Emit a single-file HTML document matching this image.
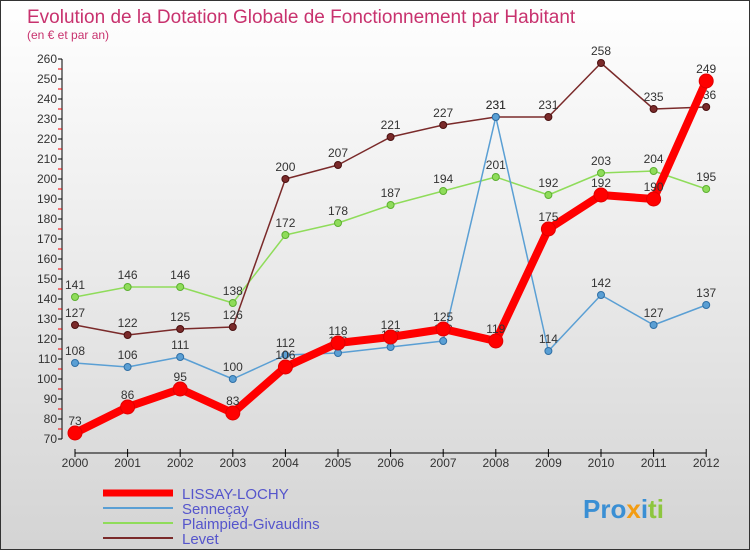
<!DOCTYPE html>
<html><head><meta charset="utf-8"><style>
body{margin:0;width:750px;height:550px;overflow:hidden;font-family:"Liberation Sans",sans-serif}
#wrap{position:relative;width:748px;height:548px;border:1px solid #333;background:linear-gradient(#fff,#d4d4d4)}
</style></head><body>
<div id="wrap">
<svg id="c" width="748" height="548">
<text x="26" y="22" font-size="19" fill="#c8326e">Evolution de la Dotation Globale de Fonctionnement par Habitant</text>
<text x="26" y="38" font-size="12" fill="#c8326e">(en € et par an)</text>
</svg>
</div>
<script>
const years=[2000,2001,2002,2003,2004,2005,2006,2007,2008,2009,2010,2011,2012];
const yTicks=[70,80,90,100,110,120,130,140,150,160,170,180,190,200,210,220,230,240,250,260];
const lissay=[73,86,95,83,106,118,121,125,119,175,192,190,249];
const sennecay=[108,106,111,100,112,113,116,119,231,114,142,127,137];
const plaimpied=[141,146,146,138,172,178,187,194,201,192,203,204,195];
const levet=[127,122,125,126,200,207,221,227,231,231,258,235,236];
const svg=document.getElementById('c');const NS='http://www.w3.org/2000/svg';
const X=i=>74+i*52.6, Y=v=>438-(v-70)*2;
function mk(t,a,p){const e=document.createElementNS(NS,t);for(const k in a)e.setAttribute(k,a[k]);(p||svg).appendChild(e);return e;}
const ax=mk('g',{});


mk('line',{x1:61,y1:Y(260),x2:61,y2:Y(70),stroke:'#000'},ax);
mk('line',{x1:74,y1:452,x2:X(12),y2:452,stroke:'#000'},ax);
yTicks.forEach(v=>{mk('line',{x1:57,x2:61,y1:Y(v),y2:Y(v),stroke:'#000'},ax);
 if(v<260)mk('line',{x1:57,x2:61,y1:Y(v+5),y2:Y(v+5),stroke:'#e00'},ax);
 const t=mk('text',{x:56,y:Y(v)+4,'font-size':12,'text-anchor':'end',fill:'#333'},ax);t.textContent=v;
 
 });
years.forEach((y,i)=>{mk('line',{x1:X(i),x2:X(i),y1:448,y2:456,stroke:'#000'},ax);
 const t=mk('text',{x:X(i),y:466,'font-size':12,'text-anchor':'middle',fill:'#333'},ax);t.textContent=y;
 
 });
function series(d,color,w,r,name,dark){const g=mk('g',{});
 
 
 mk('polyline',{points:d.map((v,i)=>X(i)+','+Y(v)).join(' '),fill:'none',stroke:color,'stroke-width':w,'stroke-linejoin':'round'},g);
 d.forEach((v,i)=>{const c=mk('circle',{cx:X(i),cy:Y(v),r:r,fill:color,stroke:dark,'stroke-width':1},g);
  
  
  const t=mk('text',{x:X(i),y:Y(v)-8,'font-size':12,'text-anchor':'middle',fill:'#333'},g);t.textContent=v;
  
  });}
series(plaimpied,'#8fdc5a',1.5,3.5,'series-plaimpied','#5cb030');
series(levet,'#7a2a2a',1.5,3.5,'series-levet','#4a1010');
series(sennecay,'#5a9fd4',1.5,3.5,'series-sennecay','#2f6fa5');
series(lissay,'#ff0000',8,7,'series-lissay','#e00000');
const leg=[['LISSAY-LOCHY','#f00',7],['Senneçay','#5a9fd4',2],['Plaimpied-Givaudins','#8fdc5a',2],['Levet','#7a2a2a',2]];
leg.forEach((l,i)=>{const g=mk('g',{});
 
 
 const y=492+i*15;mk('line',{x1:102,x2:172,y1:y,y2:y,stroke:l[1],'stroke-width':l[2]},g);
 const t=mk('text',{x:181,y:y+6,'font-size':15,fill:'#55c'},g);t.textContent=l[0];});
const p=mk('text',{x:582,y:517,'font-size':26,'font-weight':'bold',fill:'#f39c12'});


p.innerHTML='<tspan fill="#3a8fd4">Pro</tspan><tspan fill="#f39c12">x</tspan><tspan fill="#3a8fd4">i</tspan><tspan fill="#8dc63f">ti</tspan>';
</script>
</body></html>
